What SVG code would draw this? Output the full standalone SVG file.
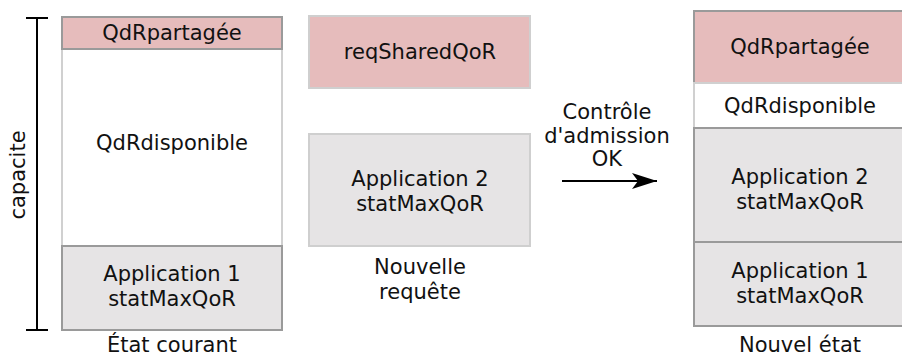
<svg xmlns="http://www.w3.org/2000/svg" width="902" height="356" viewBox="0 0 902 356">
<defs>
<style>
text{font-family:"DejaVu Sans","Liberation Sans",sans-serif;font-size:21px;fill:#111;text-anchor:middle}
.pink{fill:#e6bcbc;stroke:#9a9a9a;stroke-width:2}
.pinkl{fill:#e6bcbc;stroke:#cfcfcf;stroke-width:2}
.white{fill:#fff;stroke:#d0d0d0;stroke-width:2}
.gray{fill:#e6e4e5;stroke:#9a9a9a;stroke-width:2}
.grayl{fill:#e6e4e5;stroke:#cfcfcf;stroke-width:2}
.blk{stroke:#000;stroke-width:2;fill:none}
</style>
<marker id="ah" viewBox="0 0 25 16" refX="25" refY="8" markerWidth="25" markerHeight="16" markerUnits="userSpaceOnUse" orient="auto">
<path d="M0,0 L25,8 L0,16 L6,8 z" fill="#000"/>
</marker>
</defs>
<g id="capacite">
<line class="blk" x1="37" y1="18" x2="37" y2="330"/>
<line class="blk" x1="26" y1="18" x2="48" y2="18"/>
<line class="blk" x1="26" y1="330" x2="48" y2="330"/>
<text transform="translate(25,175) rotate(-90)">capacite</text>
</g>
<g id="etat-courant">
<rect class="white" x="62" y="49" width="220" height="197"/>
<rect class="pink" x="62" y="17" width="220" height="32"/>
<text x="172" y="40">QdRpartagée</text>
<text x="172" y="150">QdRdisponible</text>
<rect class="gray" x="62" y="246" width="220" height="84"/>
<text x="172" y="281">Application 1</text>
<text x="172" y="306">statMaxQoR</text>
<text x="172" y="352">État courant</text>
</g>
<g id="nouvelle-requete">
<rect class="pinkl" x="309" y="16" width="221" height="72"/>
<text x="420" y="59">reqSharedQoR</text>
<rect class="grayl" x="309" y="134" width="221" height="112"/>
<text x="420" y="186">Application 2</text>
<text x="420" y="211">statMaxQoR</text>
<text x="420" y="274">Nouvelle</text>
<text x="420" y="299">requête</text>
</g>
<g id="connectors">
<line class="blk" x1="562" y1="181" x2="657" y2="181" marker-end="url(#ah)"/>
<text x="607" y="119">Contrôle</text>
<text x="607" y="143">d'admission</text>
<text x="607" y="166">OK</text>
</g>
<g id="nouvel-etat">
<rect class="pink" x="694" y="11" width="215" height="72"/>
<text x="800" y="54">QdRpartagée</text>
<rect class="white" x="694" y="83" width="215" height="45"/>
<text x="800" y="113">QdRdisponible</text>
<rect class="gray" x="694" y="128" width="215" height="114"/>
<text x="800" y="184">Application 2</text>
<text x="800" y="209">statMaxQoR</text>
<rect class="gray" x="694" y="242" width="215" height="84"/>
<text x="800" y="278">Application 1</text>
<text x="800" y="303">statMaxQoR</text>
<text x="800" y="352">Nouvel état</text>
</g>
</svg>
